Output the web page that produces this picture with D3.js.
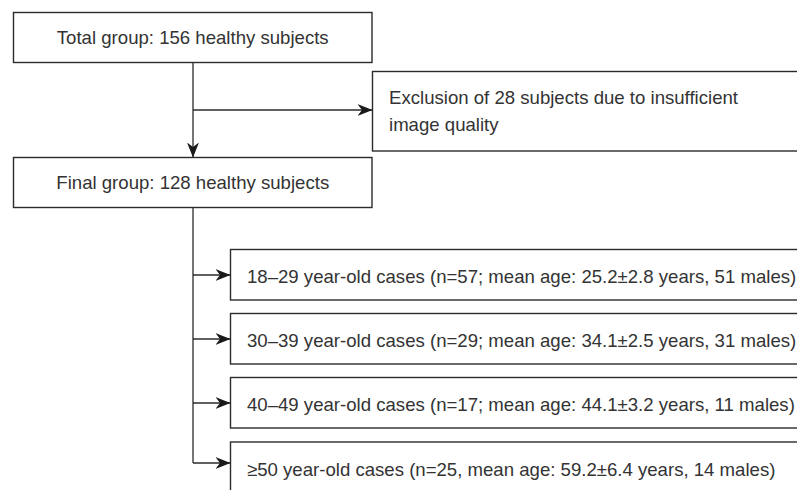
<!DOCTYPE html>
<html><head><meta charset="utf-8">
<script src="https://cdn.jsdelivr.net/npm/d3@7"></script>
<style>html,body{margin:0;padding:0;background:#fff;}svg{display:block;}</style>
</head><body>
<script>
const topLabels = ["Total group: 156 healthy subjects", "Final group: 128 healthy subjects"];
const exclusionLines = ["Exclusion of 28 subjects due to insufficient", "image quality"];
const ageGroups = [
  "18\u201329 year-old cases (n=57; mean age: 25.2\u00b12.8 years, 51 males)",
  "30\u201339 year-old cases (n=29; mean age: 34.1\u00b12.5 years, 31 males)",
  "40\u201349 year-old cases (n=17; mean age: 44.1\u00b13.2 years, 11 males)",
  "\u226550 year-old cases (n=25, mean age: 59.2\u00b16.4 years, 14 males)"
];

const W = 797, H = 490;
const ink = "#2b2b2b", textCol = "#333";
const font = "'Liberation Sans', Arial, Helvetica, sans-serif";
const fs = 18.6;

const svg = d3.select("body").append("svg").attr("width", W).attr("height", H);
const defs = svg.append("defs");
defs.append("marker").attr("id","arr").attr("viewBox","0 0 15 12")
  .attr("refX",15).attr("refY",6).attr("markerWidth",15).attr("markerHeight",12)
  .attr("markerUnits","userSpaceOnUse").attr("orient","auto")
  .append("path").attr("d","M0,0 L15,6 L0,12 L4.5,6 Z").attr("fill","#1a1a1a");

// top boxes
const topBox = {x: 13.5, w: 358.5, h: 50};
const topY = [12.5, 157.5];
const tb = svg.selectAll("g.top").data(topLabels).join("g").attr("class","top");
tb.append("rect").attr("x", topBox.x).attr("y",(d,i)=>topY[i])
  .attr("width", topBox.w).attr("height", topBox.h)
  .attr("fill","#fff").attr("stroke",ink).attr("stroke-width",1.4);
tb.append("text").attr("x", topBox.x + topBox.w/2).attr("y",(d,i)=>topY[i]+topBox.h/2)
  .attr("dy","0.35em").attr("text-anchor","middle")
  .attr("font-family",font).attr("font-size",fs).attr("fill",textCol).text(d=>d);

// exclusion box
const ex = {x: 372.5, y: 71.5, w: 440, h: 79.5};
svg.append("rect").attr("x",ex.x).attr("y",ex.y).attr("width",ex.w).attr("height",ex.h)
  .attr("fill","#fff").attr("stroke",ink).attr("stroke-width",1.4);
svg.selectAll("text.ex").data(exclusionLines).join("text").attr("class","ex")
  .attr("x", 389).attr("y",(d,i)=>97.5 + i*27).attr("dy","0.35em")
  .attr("font-family",font).attr("font-size",fs).attr("fill",textCol).text(d=>d);

const cx = 193;
// main vertical
svg.append("line").attr("x1",cx).attr("x2",cx).attr("y1",topY[0]+topBox.h).attr("y2",topY[1])
  .attr("stroke",ink).attr("stroke-width",1.3).attr("marker-end","url(#arr)");
svg.append("line").attr("x1",cx).attr("x2",ex.x).attr("y1",110).attr("y2",110)
  .attr("stroke",ink).attr("stroke-width",1.3).attr("marker-end","url(#arr)");

// age boxes
const ageBox = {x: 230.5, w: 600, h: 50.5};
const ageTop = [249.5, 313.5, 377.5, 442];
const arrowY = [275, 339, 403, 463];
svg.append("line").attr("x1",cx).attr("x2",cx).attr("y1",topY[1]+topBox.h).attr("y2",arrowY[3])
  .attr("stroke",ink).attr("stroke-width",1.3);
const ag = svg.selectAll("g.age").data(ageGroups).join("g").attr("class","age");
ag.append("rect").attr("x",ageBox.x).attr("y",(d,i)=>ageTop[i]).attr("width",ageBox.w).attr("height",ageBox.h)
  .attr("fill","#fff").attr("stroke",ink).attr("stroke-width",1.4);
ag.append("text").attr("x",247).attr("y",(d,i)=>ageTop[i]+27).attr("dy","0.35em")
  .attr("font-family",font).attr("font-size",fs).attr("fill",textCol).text(d=>d);
ag.append("line").attr("x1",cx).attr("x2",ageBox.x).attr("y1",(d,i)=>arrowY[i]).attr("y2",(d,i)=>arrowY[i])
  .attr("stroke",ink).attr("stroke-width",1.3).attr("marker-end","url(#arr)");
</script>
</body></html>
